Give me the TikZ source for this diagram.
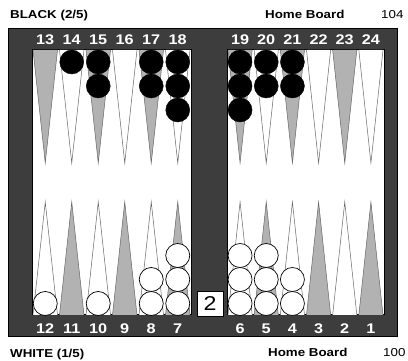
\documentclass[tikz,border=0pt]{standalone}
\usepackage{fontspec}
\setmainfont{Liberation Sans}
\newfontfamily\widefont[FakeStretch=1.16]{Liberation Sans}
\begin{document}
\begin{tikzpicture}[x=1pt,y=-1pt,
  tri/.style={draw=black!60, line width=0.5pt},
  greytri/.style={tri, fill=black!30},
  whitetri/.style={tri, fill=white},
  bchk/.style={circle, fill=black, draw=black, minimum size=24pt, inner sep=0pt},
  wchk/.style={circle, fill=white, draw=black, line width=0.7pt, minimum size=24pt, inner sep=0pt},
  ptnum/.style={text=white, font=\widefont\bfseries\fontsize{14}{14}\selectfont, anchor=base},
  lab/.style={font=\widefont\bfseries\fontsize{11.5}{11.5}\selectfont, anchor=base west, inner sep=0pt},
  pip/.style={font=\widefont\fontsize{11.5}{11.5}\selectfont, anchor=base west, inner sep=0pt},
  cube/.style={draw=black, fill=white, line width=0.7pt, minimum width=26pt, minimum height=25pt, inner sep=0pt, font=\widefont\fontsize{20}{20}\selectfont}]
\useasboundingbox (0,0) rectangle (408,361);
\fill[white] (0,0) rectangle (408,361);
% frame
\draw[fill=black!76, line width=1pt] (8,29) rectangle (397,337);
\draw[fill=white, line width=1pt] (32,50) rectangle (191,315);
\draw[fill=white, line width=1pt] (227,50) rectangle (384,315);
% left field triangles
\foreach \i in {0,...,5}{
  \pgfmathsetmacro{\xa}{32+26.5*\i}
  \pgfmathsetmacro{\xc}{\xa+13.25}
  \pgfmathsetmacro{\xb}{\xa+26.5}
  \pgfmathtruncatemacro{\odd}{mod(\i,2)}
  \ifnum\odd=0
    \draw[greytri] (\xa+1,50) -- (\xc,163) -- (\xb-1,50);
    \draw[whitetri] (\xa+1,315) -- (\xc,202) -- (\xb-1,315);
  \else
    \draw[whitetri] (\xa+1,50) -- (\xc,163) -- (\xb-1,50);
    \draw[greytri] (\xa+1,315) -- (\xc,202) -- (\xb-1,315);
  \fi
  \pgfmathtruncatemacro{\top}{13+\i}
  \pgfmathtruncatemacro{\bot}{12-\i}
  \node[ptnum] (t\top) at (\xc,45) {\top};
  \node[ptnum] (t\bot) at (\xc,334) {\bot};
}
% right field triangles
\foreach \i in {0,...,5}{
  \pgfmathsetmacro{\xa}{227+26.1667*\i}
  \pgfmathsetmacro{\xc}{\xa+13.083}
  \pgfmathsetmacro{\xb}{\xa+26.1667}
  \pgfmathtruncatemacro{\odd}{mod(\i,2)}
  \ifnum\odd=0
    \draw[greytri] (\xa+1,50) -- (\xc,163) -- (\xb-1,50);
    \draw[whitetri] (\xa+1,315) -- (\xc,202) -- (\xb-1,315);
  \else
    \draw[whitetri] (\xa+1,50) -- (\xc,163) -- (\xb-1,50);
    \draw[greytri] (\xa+1,315) -- (\xc,202) -- (\xb-1,315);
  \fi
  \pgfmathtruncatemacro{\top}{19+\i}
  \pgfmathtruncatemacro{\bot}{6-\i}
  \node[ptnum] (t\top) at (\xc,45) {\top};
  \node[ptnum] (t\bot) at (\xc,334) {\bot};
}
% black checkers: point center x / count
\foreach \x/\n [count=\c] in {71.75/1, 98.25/2, 151.25/2, 177.75/3, 240.08/3, 266.25/2, 292.42/2}{
  \foreach \k in {1,...,\n}{
    \node[bchk] (b\c-\k) at (\x,{62+24*(\k-1)}) {};
  }
}
% white checkers
\foreach \x/\n [count=\c] in {45.25/1, 98.25/1, 151.25/2, 177.75/3, 240.08/3, 266.25/3, 292.42/2}{
  \foreach \k in {1,...,\n}{
    \node[wchk] (w\c-\k) at (\x,{303.5-24*(\k-1)}) {};
  }
}
% doubling cube
\node[cube] (cube) at (210,303.5) {2};
% labels
\node[lab] (black) at (10,19) {BLACK (2/5)};
\node[lab] (homet) at (265,19) {Home Board};
\node[pip] (pipt) at (381,19) {104};
\node[lab] (white) at (10,358) {WHITE (1/5)};
\node[lab] (homeb) at (268,356) {Home Board};
\node[pip] (pipb) at (383,356) {100};
\end{tikzpicture}
\end{document}
